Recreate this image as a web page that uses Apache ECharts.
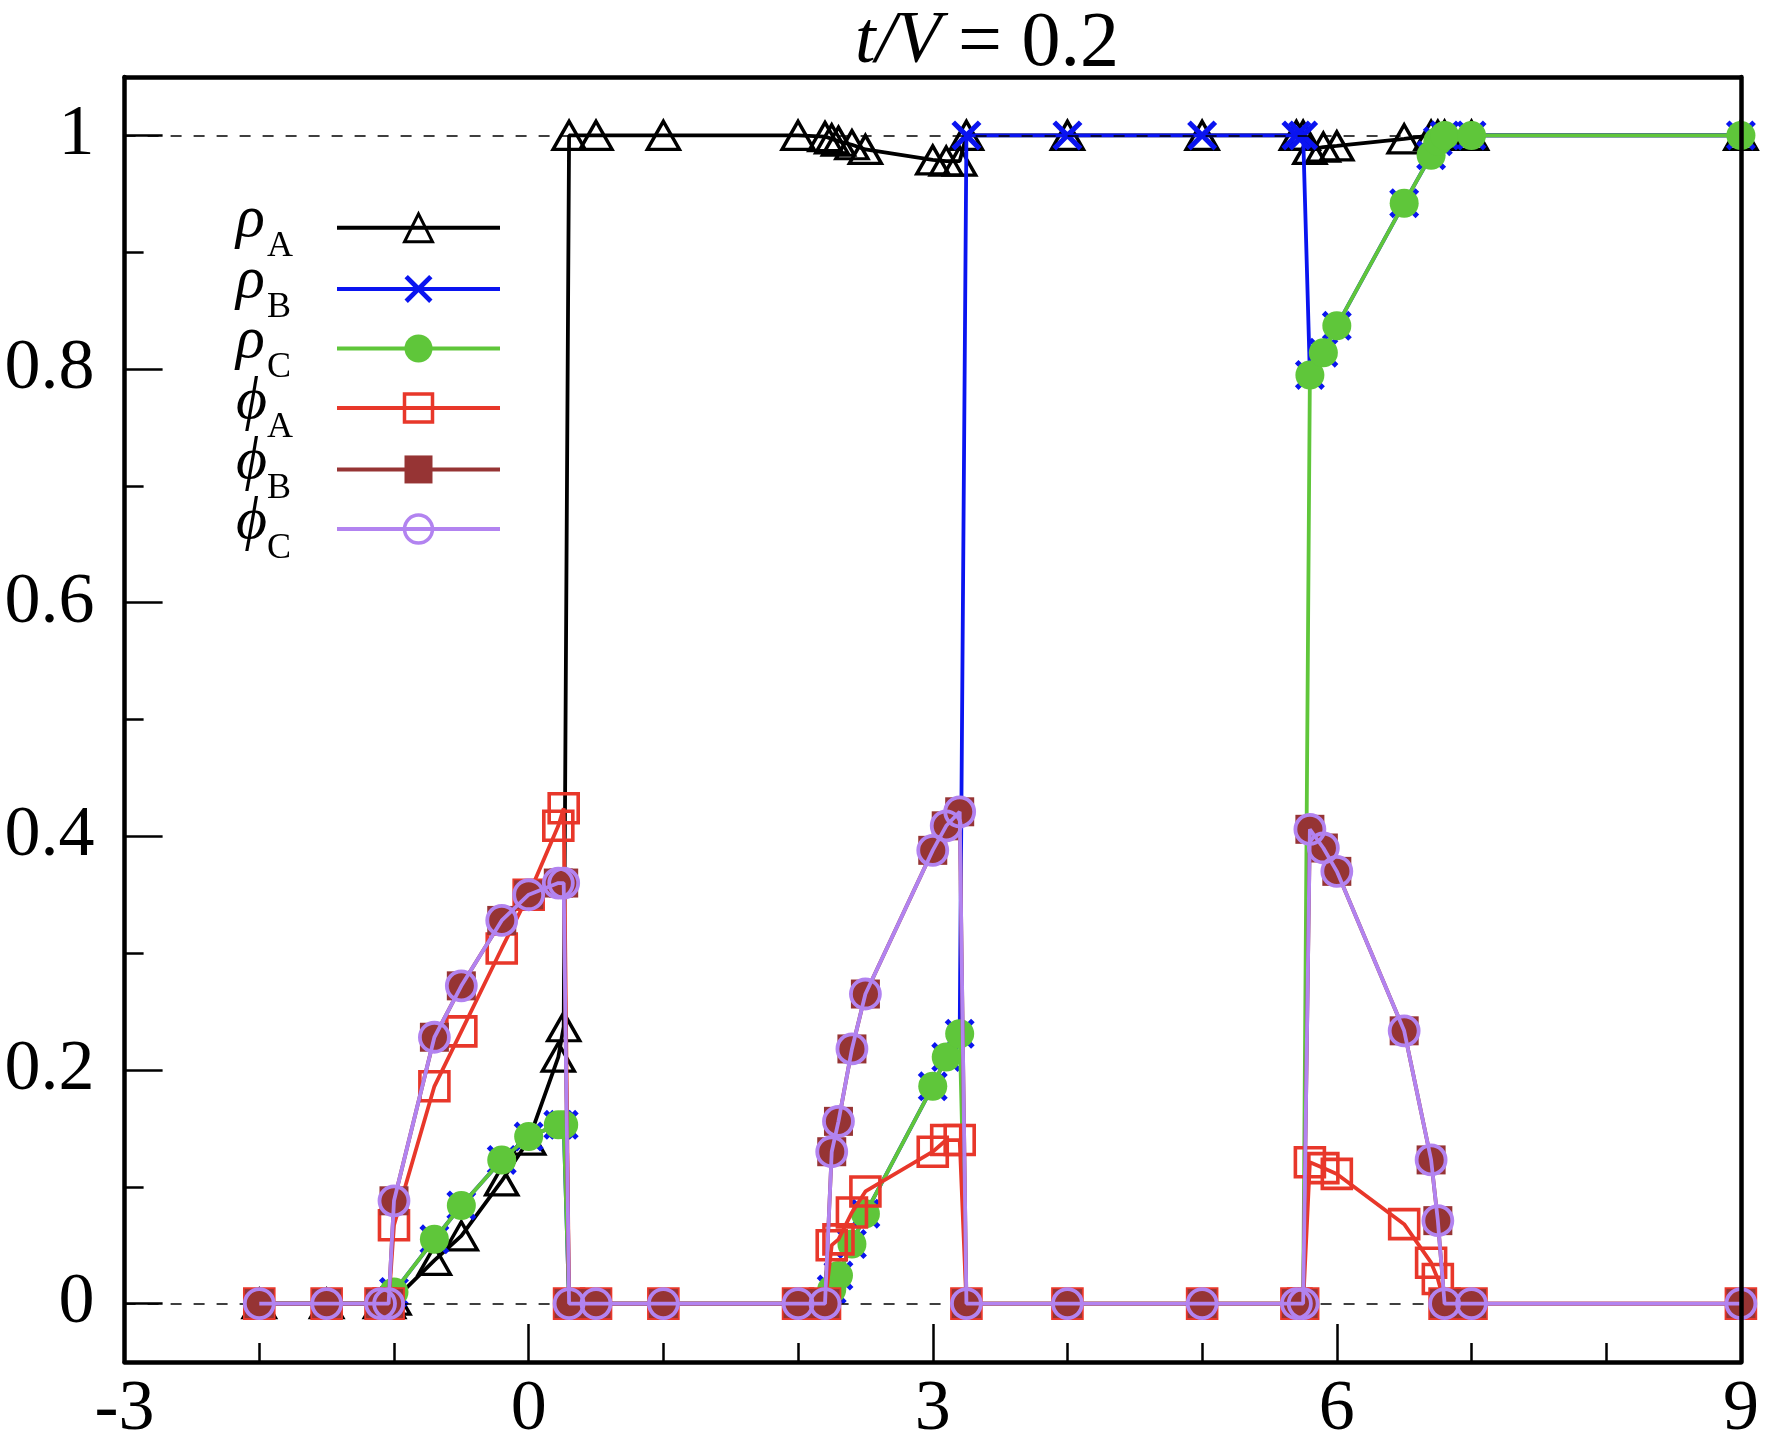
<!DOCTYPE html>
<html>
<head>
<meta charset="utf-8">
<script src="https://cdn.jsdelivr.net/npm/echarts@6/dist/echarts.min.js"></script>
<style>
html,body{margin:0;padding:0;background:#fff;}
#c{width:1776px;height:1446px;}
</style>
</head>
<body>
<div id="c"></div>
<script>
// ---- data ----
const xs = [-2, -1.5, -1.1, -1.04, -1.0, -0.7, -0.5, -0.2, 0, 0.22, 0.26, 0.3, 0.5, 1,
            2, 2.2, 2.25, 2.3, 2.4, 2.5, 3.0, 3.1, 3.2, 3.25, 4, 5,
            5.7, 5.75, 5.8, 5.9, 6.0, 6.5, 6.7, 6.75, 6.8, 7, 9];
const rhoA = [0, 0, 0, 0, 0.003, 0.037, 0.058, 0.105, 0.14, 0.211, 0.237, 1, 1, 1,
              1, 0.999, 0.997, 0.995, 0.992, 0.988, 0.979, 0.978, 0.978, 1, 1, 1,
              1, 1, 0.988, 0.99, 0.991, 0.997, 1, 1, 1, 1, 1];
const rhoB = [0, 0, 0, 0, 0.01, 0.055, 0.084, 0.123, 0.143, 0.153, 0.153, 0, 0, 0,
              0, 0, 0.012, 0.024, 0.051, 0.077, 0.186, 0.211, 0.231, 1, 1, 1,
              1, 1, 0.795, 0.814, 0.837, 0.942, 0.983, 0.995, 1, 1, 1];
const rhoC = [0, 0, 0, 0, 0.01, 0.055, 0.084, 0.123, 0.143, 0.153, 0.153, 0, 0, 0,
              0, 0, 0.012, 0.024, 0.051, 0.077, 0.186, 0.211, 0.231, 0, 0, 0,
              0, 0, 0.795, 0.814, 0.837, 0.942, 0.983, 0.995, 1, 1, 1];
const phiA = [0, 0, 0, 0, 0.067, 0.186, 0.233, 0.304, 0.35, 0.409, 0.424, 0, 0, 0,
              0, 0, 0.05, 0.055, 0.078, 0.096, 0.13, 0.14, 0.14, 0, 0, 0,
              0, 0, 0.121, 0.116, 0.111, 0.068, 0.035, 0.021, 0, 0, 0];
const phiB = [0, 0, 0, 0, 0.088, 0.228, 0.272, 0.328, 0.35, 0.36, 0.36, 0, 0, 0,
              0, 0, 0.13, 0.156, 0.218, 0.265, 0.388, 0.409, 0.421, 0, 0, 0,
              0, 0, 0.406, 0.39, 0.37, 0.2335, 0.123, 0.071, 0, 0, 0];
const phiC = [0, 0, 0, 0, 0.088, 0.228, 0.272, 0.328, 0.35, 0.36, 0.36, 0, 0, 0,
              0, 0, 0.13, 0.156, 0.218, 0.265, 0.388, 0.409, 0.421, 0, 0, 0,
              0, 0, 0.406, 0.39, 0.37, 0.2335, 0.123, 0.071, 0, 0, 0];
const xTicks = [-3, 0, 3, 6, 9];
const xMinorTicks = [-2, -1, 1, 2, 4, 5, 7, 8];
const yTicks = [0, 0.2, 0.4, 0.6, 0.8, 1];
const yMinorTicks = [0.1, 0.3, 0.5, 0.7, 0.9];
const seriesNames = ['rhoA', 'rhoB', 'rhoC', 'phiA', 'phiB', 'phiC'];
const legendMain = ['ρ', 'ρ', 'ρ', 'ϕ', 'ϕ', 'ϕ'];
const legendSub = ['A', 'B', 'C', 'A', 'B', 'C'];

// ---- styles ----
const FONT = 'Liberation Serif, DejaVu Serif, serif';
const C = {black:'#000000', blue:'#0a14f0', green:'#5fc63a', red:'#e8372a', brown:'#963434', purple:'#b283f0'};
const XPATH = 'path://M0,1.2 L1.2,0 L5,3.8 L8.8,0 L10,1.2 L6.2,5 L10,8.8 L8.8,10 L5,6.2 L1.2,10 L0,8.8 L3.8,5 Z';
const LW = 3.8;

function mk(name, arr, z, symbol, size, itemStyle, lineColor) {
  return {
    name: name, type: 'line', z: z, clip: false,
    data: xs.map((x, i) => [x, arr[i]]),
    symbol: symbol, symbolSize: size, showSymbol: true,
    itemStyle: itemStyle,
    lineStyle: {color: lineColor, width: LW},
    emphasis: {disabled: true},
    silent: true
  };
}

const series = [
  mk('rhoA', rhoA, 3, 'triangle', [32, 28], {color:'rgba(0,0,0,0)', borderColor:C.black, borderWidth:3.4}, C.black),
  mk('rhoB', rhoB, 4, XPATH, 30, {color:C.blue}, C.blue),
  mk('rhoC', rhoC, 5, 'circle', 29, {color:C.green}, C.green),
  mk('phiA', phiA, 6, 'rect', 29, {color:'rgba(0,0,0,0)', borderColor:C.red, borderWidth:3.6}, C.red),
  mk('phiB', phiB, 7, 'rect', 29, {color:C.brown}, C.brown),
  mk('phiC', phiC, 8, 'circle', 29, {color:'rgba(0,0,0,0)', borderColor:C.purple, borderWidth:3.8}, C.purple)
];
series[0].markLine = {
  silent: true, symbol: 'none', animation: false,
  label: {show: false},
  lineStyle: {color: '#000', type: [11, 12], width: 1.6},
  data: [{yAxis: 0}, {yAxis: 1}]
};

const legendItemStyles = [
  {borderWidth: 3, borderColor: C.black, color: 'rgba(0,0,0,0)'},
  {borderWidth: 0},
  {borderWidth: 0},
  {borderWidth: 3.5, borderColor: C.red, color: 'rgba(0,0,0,0)'},
  {borderWidth: 0},
  {borderWidth: 3.5, borderColor: C.purple, color: 'rgba(0,0,0,0)'}
];
const legendLineColors = [C.black, C.blue, C.green, C.red, C.brown, C.purple];

// legend labels (text only)
const rowY0 = 225.8, rowDY = 60.4;
const graphics = [];
legendMain.forEach((m, i) => {
  const yl = rowY0 + rowDY * i;
  graphics.push({type:'text', left: 236, top: yl + 15 - 0.3375*60 - 30, silent:true,
    style:{text:m, font:'italic 60px ' + FONT, fill:'#000'}});
  graphics.push({type:'text', left: 267, top: yl + 33 - 0.3375*36 - 18, silent:true,
    style:{text:legendSub[i], font:'36px ' + FONT, fill:'#000'}});
});
// title
graphics.push({type:'text', left: 855, top: 6, silent:true,
  style:{text:'t/V', font:'italic 74px ' + FONT, fill:'#000'}});
graphics.push({type:'text', left: 958, top: 6, silent:true,
  style:{text:'= 0.2', font:'78px ' + FONT, fill:'#000'}});

const axisLineStyle = {color:'#000', width:4.5};
const tickStyle = {color:'#000', width: 2.5};
function tickAxisX(values, len) {
  return {
    type: 'value', min: -3, max: 9, position: 'bottom', z: 20,
    axisLine: {show: false, onZero: false},
    axisTick: {show: true, inside: true, length: len, customValues: values, lineStyle: tickStyle},
    axisLabel: {show: false}, splitLine: {show: false}
  };
}
function tickAxisY(values, len) {
  return {
    type: 'value', min: -0.05, max: 1.05, position: 'left', z: 20,
    axisLine: {show: false, onZero: false},
    axisTick: {show: true, inside: true, length: len, customValues: values, lineStyle: tickStyle},
    axisLabel: {show: false}, splitLine: {show: false}
  };
}
const option = {
  animation: false,
  backgroundColor: '#fff',
  grid: {left: 124.6, right: 35.1, top: 77, bottom: 75.5, containLabel: false},
  legend: {
    orient: 'vertical', left: 330, top: rowY0 - 17.5 - 3,
    itemWidth: 163, itemHeight: 35, itemGap: 28.1,
    formatter: () => '',
    selectedMode: false,
    data: seriesNames.map((n, i) => ({name: n, itemStyle: legendItemStyles[i],
      lineStyle: {color: legendLineColors[i], width: 4}}))
  },
  xAxis: [{
    type: 'value', min: -3, max: 9, interval: 3, position: 'bottom', z: 20,
    axisLine: {show: true, onZero: false, lineStyle: axisLineStyle},
    axisTick: {show: false},
    minorTick: {show: false},
    splitLine: {show: false},
    axisLabel: {show: true, fontSize: 72, fontFamily: FONT, color: '#000', margin: 12,
      formatter: v => String(v)}
  }, {
    type: 'value', position: 'top', min: -3, max: 9, z: 20,
    axisLine: {show: true, onZero: false, lineStyle: axisLineStyle},
    axisTick: {show: false}, axisLabel: {show: false}, splitLine: {show: false}
  },
  tickAxisX(xTicks, 38),
  tickAxisX(xMinorTicks, 19)
  ],
  yAxis: [{
    type: 'value', min: -0.05, max: 1.05, position: 'left', z: 20,
    axisLine: {show: true, onZero: false, lineStyle: axisLineStyle},
    axisTick: {show: false},
    axisLabel: {show: true, customValues: yTicks, fontSize: 72, fontFamily: FONT, color: '#000', margin: 30,
      formatter: v => String(v)},
    splitLine: {show: false}
  },
  tickAxisY(yMinorTicks, 19),
  tickAxisY(yTicks, 38),
  {
    type: 'value', min: -0.05, max: 1.05, position: 'right', z: 20,
    axisLine: {show: true, onZero: false, lineStyle: axisLineStyle},
    axisTick: {show: false}, axisLabel: {show: false}, splitLine: {show: false}
  }],
  graphic: graphics,
  series: series
};
const chart = echarts.init(document.getElementById('c'), null, {renderer: 'canvas'});
chart.setOption(option);
</script>
</body>
</html>
